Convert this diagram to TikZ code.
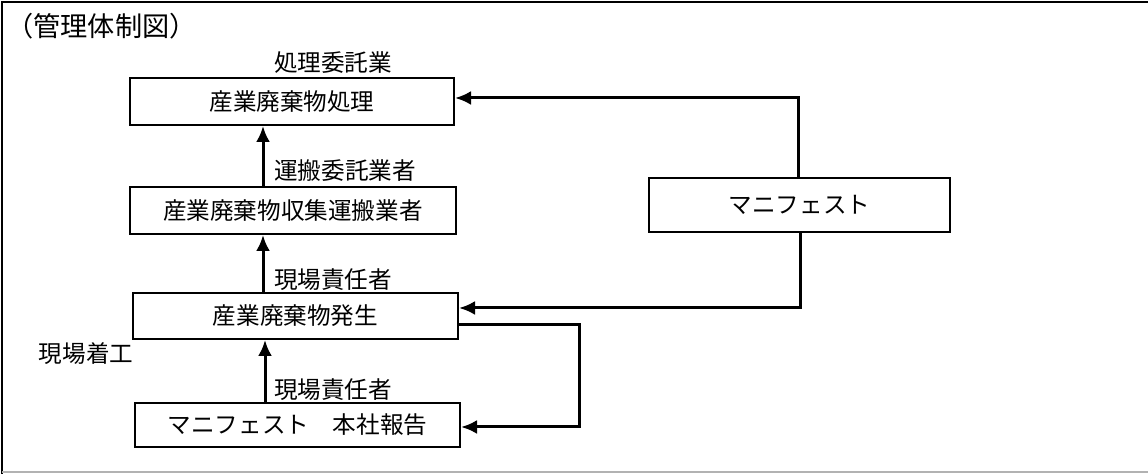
\documentclass[tikz,border=0pt]{standalone}
\usepackage{fontspec}
\setmainfont{Noto Sans CJK JP}
\usepackage{tikz}
\usetikzlibrary{arrows.meta,positioning}

\begin{document}
\begin{tikzpicture}[x=0.5pt, y=-0.5pt,
  wastebox/.style={draw, line width=1pt, inner sep=0pt, font=\fontsize{11.8}{13}\selectfont},
  tag/.style={inner sep=0pt, font=\fontsize{11.8}{13}\selectfont},
  flow/.style={line width=1.5pt, -{Latex[length=8pt,width=7pt]}}]
  \useasboundingbox (0,0) rectangle (1148,474);
  % Frame
  \draw[line width=1pt] (1148,2) -- (2,2) -- (2,474);
  \draw[line width=0.6pt, gray!60] (2,472) -- (1148,472);
  % Title
  \node[tag, anchor=west, font=\fontsize{13.6}{15}\selectfont] (title) at (6,26) {（管理体制図）};
  % Boxes
  \node[wastebox, minimum width=162pt, minimum height=23.5pt] (shori) at (292,101.5) {産業廃棄物処理};
  \node[wastebox, minimum width=163pt, minimum height=23.5pt] (unpan) at (293,210.5) {産業廃棄物収集運搬業者};
  \node[wastebox, minimum width=162.5pt, minimum height=23pt] (hassei) at (295.5,316) {産業廃棄物発生};
  \node[wastebox, minimum width=162.5pt, minimum height=22pt] (honsha) at (297.5,425) {マニフェスト　本社報告};
  \node[wastebox, minimum width=150.5pt, minimum height=27pt] (mani) at (799.5,205) {マニフェスト};
  % Labels
  \node[tag] (itaku) at (333,63) {処理委託業};
  \node[tag] (unitaku) at (345,171) {運搬委託業者};
  \node[tag] (sekinin1) at (333,280) {現場責任者};
  \node[tag] (chakko) at (86,354) {現場着工};
  \node[tag] (sekinin2) at (333,390) {現場責任者};
  % Arrows up the chain
  \draw[flow] (unpan.north -| 263,0) -- (shori.south -| 263,0);
  \draw[flow] (hassei.north -| 263,0) -- (unpan.south -| 263,0);
  \draw[flow] (honsha.north -| 265,0) -- (hassei.south -| 265,0);
  % Manifest returns
  \draw[flow] (mani.north -| 798,0) |- (shori.east |- 0,98);
  \draw[flow] (mani.south -| 800,0) |- (hassei.east |- 0,308);
  \draw[flow] (hassei.east |- 0,325) -| (579,427) -- (honsha.east |- 0,427);
\end{tikzpicture}
\end{document}
